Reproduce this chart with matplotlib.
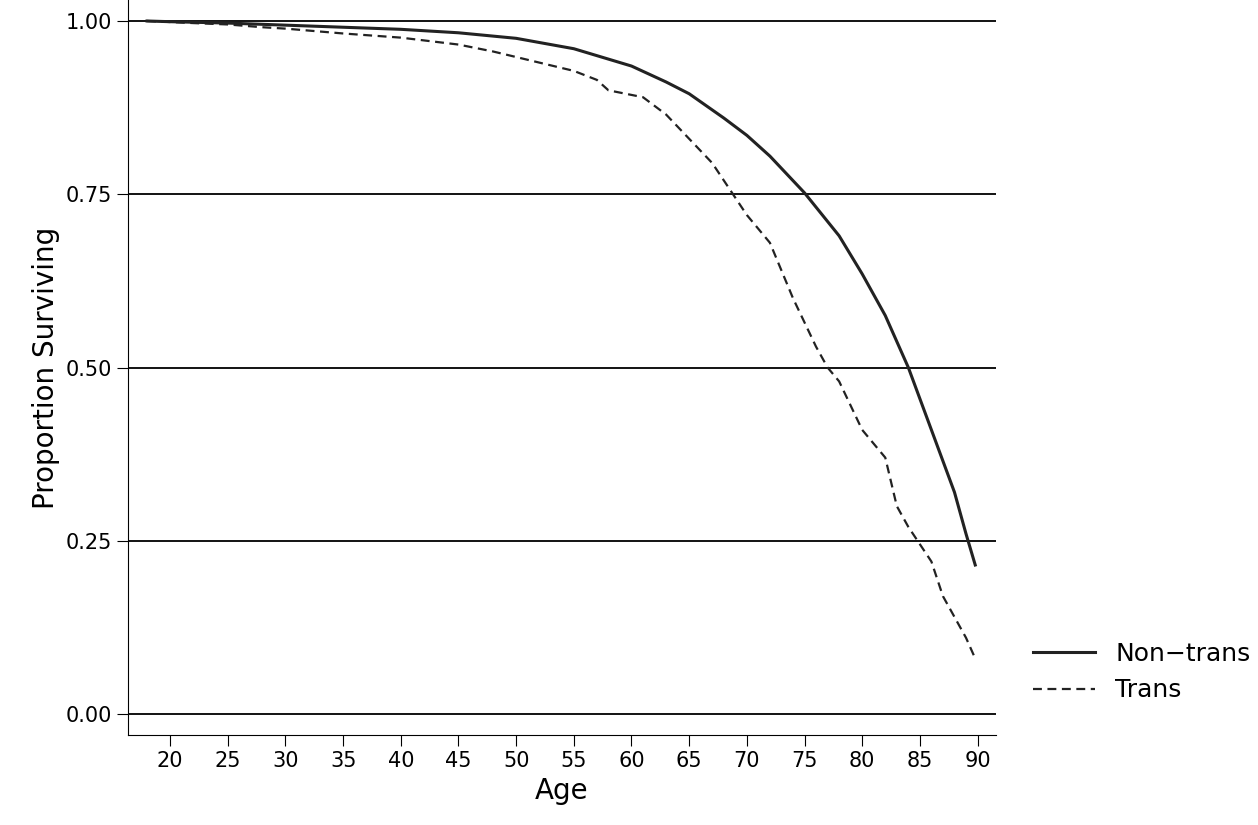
import matplotlib
matplotlib.use("Agg")
import matplotlib.pyplot as plt

age_non = [18, 20, 25, 30, 35, 40, 45, 50, 55, 60, 63, 65, 68, 70, 72, 75, 78, 80, 82, 84, 86, 88, 89, 89.8]
surv_non = [1.0, 0.999, 0.997, 0.994, 0.991, 0.988, 0.983, 0.975, 0.96, 0.935, 0.912, 0.895, 0.86, 0.835, 0.805, 0.752, 0.69, 0.635, 0.575, 0.5, 0.41, 0.32, 0.26, 0.215]
age_tr = [18, 22, 25, 28, 30, 35, 40, 42, 45, 48, 50, 52, 55, 57, 58, 61, 63, 65, 67, 69, 70, 72, 73, 74, 76, 77, 78, 80, 82, 83, 84, 85, 86, 87, 88, 89, 89.8]
surv_tr = [1.0, 0.997, 0.995, 0.991, 0.989, 0.982, 0.976, 0.972, 0.966, 0.956, 0.948, 0.94, 0.928, 0.915, 0.9, 0.89, 0.865, 0.83, 0.795, 0.745, 0.72, 0.68, 0.64, 0.6, 0.53, 0.5, 0.48, 0.41, 0.37, 0.3, 0.27, 0.245, 0.22, 0.17, 0.14, 0.11, 0.08]
xticks = list(range(20, 95, 5))
yticks = [0.0, 0.25, 0.5, 0.75, 1.0]

fig = plt.figure(figsize=(12.58, 8.25), dpi=100)
ax = fig.add_axes([128/1258, (825-735)/825, (996-128)/1258, 735/825])
ax.plot(age_non, surv_non, color='#222222', lw=2.2, label='Non\u2212trans')
ax.plot(age_tr, surv_tr, color='#222222', lw=1.6, ls=(0, (4, 2.5)), label='Trans')
ax.set_xlim(16.35, 91.6)
ax.set_ylim(-0.0303, 1.0303)
ax.set_xticks(xticks)
ax.set_yticks(yticks)
ax.set_yticklabels([f"{v:.2f}" for v in yticks])
for v in yticks:
    ax.axhline(v, color='black', lw=1.3, zorder=0)
ax.spines['top'].set_visible(False)
ax.spines['right'].set_visible(False)
ax.tick_params(labelsize=15, length=8)
ax.set_xlabel('Age', fontsize=20)
ax.set_ylabel('Proportion Surviving', fontsize=20)
fig.legend(loc='center left', bbox_to_anchor=(1010/1258, 1-672/825), frameon=False,
           fontsize=18, handlelength=2.5)
fig.savefig('out.png')
